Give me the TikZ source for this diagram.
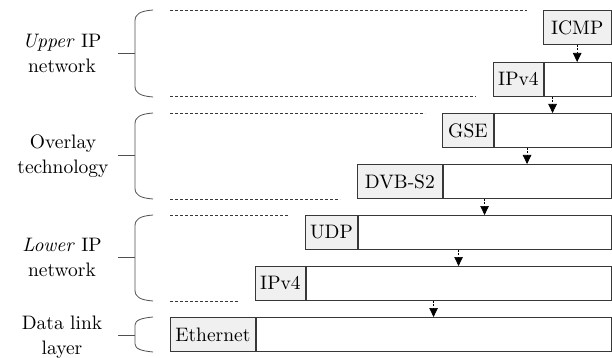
\documentclass[tikz,border=0pt]{standalone}
\usepackage{fontspec}
\setmainfont{lmroman10-regular.otf}[ItalicFont=lmroman10-italic.otf]
\usetikzlibrary{arrows.meta,fit,calc}
\definecolor{hdrgray}{HTML}{F0F0F0}
\definecolor{boxline}{HTML}{383838}
\definecolor{braceline}{HTML}{505050}
\begin{document}
\begin{tikzpicture}[x=1pt,y=-1pt,
  font=\fontsize{19.5}{25}\selectfont,
  hdr/.style={draw=boxline, fill=hdrgray, line width=0.8pt, minimum height=34pt, inner sep=0pt, anchor=north west},
  bodybox/.style={draw=boxline, fill=white, line width=0.8pt, minimum height=34pt, inner sep=0pt, anchor=north west},
  rowfit/.style={inner sep=0pt, outer sep=0pt},
  arr/.style={draw=black, line width=0.7pt, dash pattern=on 2pt off 1.5pt, -{Triangle[length=9pt,width=8.5pt]}},
  guide/.style={draw=boxline, line width=0.6pt, dash pattern=on 3pt off 2pt},
  bracepath/.style={draw=braceline, line width=0.8pt},
  lab/.style={align=center, inner sep=0pt}]
\useasboundingbox (0,0) rectangle (612,358);
\fill[white] (0,0) rectangle (612,358);
% rows
\node[hdr, minimum width=67.5pt] (icmp) at (543,10) {ICMP};
\node[hdr, minimum width=50pt] (ipa) at (493,62) {IPv4};
\node[bodybox, minimum width=67.5pt] (ipab) at (ipa.north east) {};
\node[rowfit, fit=(ipa)(ipab)] (r2) {};
\node[hdr, minimum width=51pt] (gse) at (442,113) {GSE};
\node[bodybox, minimum width=117.5pt] (gseb) at (gse.north east) {};
\node[rowfit, fit=(gse)(gseb)] (r3) {};
\node[hdr, minimum width=85pt] (dvb) at (357,164) {DVB-S2};
\node[bodybox, minimum width=168.5pt] (dvbb) at (dvb.north east) {};
\node[rowfit, fit=(dvb)(dvbb)] (r4) {};
\node[hdr, minimum width=52pt] (udp) at (305,215) {UDP};
\node[bodybox, minimum width=253.5pt] (udpb) at (udp.north east) {};
\node[rowfit, fit=(udp)(udpb)] (r5) {};
\node[hdr, minimum width=50pt] (ipb) at (255,266) {IPv4};
\node[bodybox, minimum width=305.5pt] (ipbb) at (ipb.north east) {};
\node[rowfit, fit=(ipb)(ipbb)] (r6) {};
\node[hdr, minimum width=85pt] (eth) at (170,317) {Ethernet};
\node[bodybox, minimum width=355.5pt] (ethb) at (eth.north east) {};
\node[rowfit, fit=(eth)(ethb)] (r7) {};
% arrows
\draw[arr] (icmp.south) -- (icmp.south |- r2.north);
\draw[arr] (r2.south) -- (r2.south |- r3.north);
\draw[arr] (r3.south) -- (r3.south |- r4.north);
\draw[arr] (r4.south) -- (r4.south |- r5.north);
\draw[arr] (r5.south) -- (r5.south |- r6.north);
\draw[arr] (r6.south) -- (r6.south |- r7.north);
% guide lines
\coordinate (gl) at (170,0);
\draw[guide] (gl |- icmp.north) -- ([xshift=-16pt]icmp.north west);
\draw[guide] (gl |- ipa.south) -- ([xshift=-17pt]ipa.south west);
\draw[guide] (gl |- gse.north) -- ([xshift=-17pt]gse.north west);
\draw[guide] (gl |- dvb.south) -- ([xshift=-17pt]dvb.south west);
\draw[guide] (gl |- udp.north) -- ([xshift=-17pt]udp.north west);
\draw[guide] (gl |- ipb.south) -- ([xshift=-17pt]ipb.south west);
% braces
\draw[bracepath] (153,10) .. controls (140,11) and (135,14) .. (135,21) -- (135,86) .. controls (135,93) and (140,96) .. (153,97);
\draw[bracepath] (118,53) -- (135,53);
\draw[bracepath] (153,113) .. controls (140,114) and (135,117) .. (135,124) -- (135,188) .. controls (135,195) and (140,198) .. (153,199);
\draw[bracepath] (118,155) -- (135,155);
\draw[bracepath] (153,215) .. controls (140,216) and (135,219) .. (135,226) -- (135,290) .. controls (135,297) and (140,300) .. (153,301);
\draw[bracepath] (118,257) -- (135,257);
\draw[bracepath] (153,317) .. controls (142,318) and (135,320) .. (135,325) -- (135,344) .. controls (135,349) and (142,351) .. (153,352);
\draw[bracepath] (118,335) -- (135,335);
% labels
\node[lab] (l1) at (62,53) {\textit{Upper} IP\\network};
\node[lab] (l2) at (63,156) {Overlay\\technology};
\node[lab] (l3) at (62,257) {\textit{Lower} IP\\network};
\node[lab] (l4) at (62,337) {Data link\\layer};
\end{tikzpicture}
\end{document}
